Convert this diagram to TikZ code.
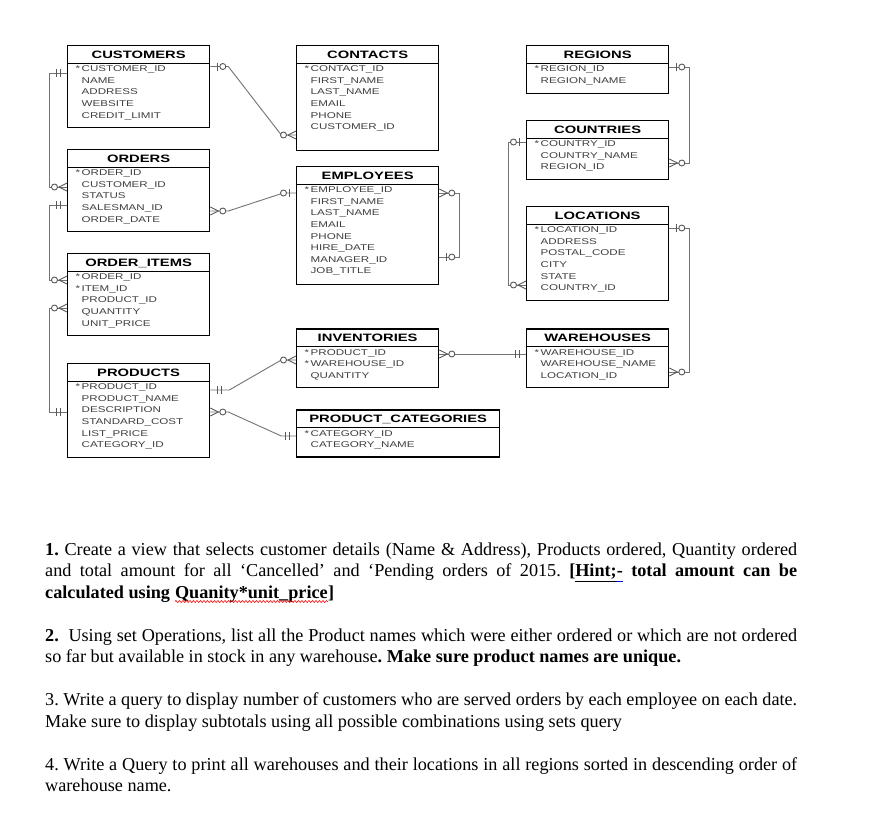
\documentclass[tikz,border=0pt]{standalone}
\usepackage{fontspec}
\setmainfont{Liberation Serif}
\newfontfamily\erfont[FakeStretch=1.38]{Liberation Sans}
\usepackage{tikz}
\usetikzlibrary{positioning,decorations.pathmorphing}

\newcommand{\pk}{\llap{*\hspace{1.5pt}}}
% table: name, north west corner, width, height, title, fields
\newcommand{\ertable}[6]{%
  \node[tbl, minimum width=#3pt, minimum height=#4pt] (#1) at (#2) {};
  \node[hdr, below=0pt of #1.north] (#1-h) {#5};
  \draw[sep] (#1-h.south -| #1.west) -- (#1-h.south -| #1.east);
  \foreach \f [count=\i] in {#6}
    \node[fld] (#1-\i) at ([shift={(14.5,{12.1+11.6*\i})}]#1.north west) {\f};
}
\newsavebox\hintbox
\newcommand{\blueul}[1]{\sbox\hintbox{#1}\rlap{\textcolor{blue}{\rule[-5pt]{\wd\hintbox}{0.8pt}}}\usebox\hintbox}

\begin{document}
\begin{tikzpicture}[
  x=1pt, y=-1pt,
  tbl/.style={draw, line width=1.3pt, fill=white, anchor=north west, inner sep=0pt},
  hdr/.style={font=\erfont\bfseries\fontsize{10.7}{12}\selectfont, inner sep=0pt,
    minimum height=18pt, text height=7.7pt, text depth=0pt},
  fld/.style={font=\erfont\fontsize{8.4}{10}\selectfont, text=black!75, anchor=west,
    inner sep=0pt, text height=6pt, text depth=0pt},
  sep/.style={line width=1pt},
  link/.style={draw=black!55, line width=0.9pt},
  endmark/.style={draw=black!65, line width=0.9pt},
  zeroone/.pic={\draw[endmark] (7,-4) -- (7,4); \draw[endmark, fill=white] (12.5,0) circle (3pt);},
  oneone/.pic={\draw[endmark] (7,-4) -- (7,4) (11,-4) -- (11,4);},
  zeromany/.pic={\draw[endmark] (0,-4) -- (8,0) -- (0,4); \draw[endmark, fill=white] (12.5,0) circle (3pt);},
  qline/.style={anchor=base west, inner sep=0pt, font=\fontsize{18.2}{21.5}\selectfont\frenchspacing},
  wavy/.style={draw=red, line width=0.6pt, decorate, decoration={snake, amplitude=1pt, segment length=3.5pt}}
]
\path[fill=white, use as bounding box] (0,0) rectangle (876,815);

\ertable{cust}{67,45}{142}{82}{CUSTOMERS}{\pk CUSTOMER\_ID, NAME, ADDRESS, WEBSITE, CREDIT\_LIMIT}
\ertable{cont}{296,45}{142}{105}{CONTACTS}{\pk CONTACT\_ID, FIRST\_NAME, LAST\_NAME, EMAIL, PHONE, CUSTOMER\_ID}
\ertable{reg}{526,45}{142}{48}{REGIONS}{\pk REGION\_ID, REGION\_NAME}
\ertable{ctry}{526,120}{142}{59}{COUNTRIES}{\pk COUNTRY\_ID, COUNTRY\_NAME, REGION\_ID}
\ertable{ord}{67,149}{142}{82}{ORDERS}{\pk ORDER\_ID, CUSTOMER\_ID, STATUS, SALESMAN\_ID, ORDER\_DATE}
\ertable{emp}{296,166}{142}{117.5}{EMPLOYEES}{\pk EMPLOYEE\_ID, FIRST\_NAME, LAST\_NAME, EMAIL, PHONE, HIRE\_DATE, MANAGER\_ID, JOB\_TITLE}
\ertable{loc}{526,206}{142}{94}{LOCATIONS}{\pk LOCATION\_ID, ADDRESS, POSTAL\_CODE, CITY, STATE, COUNTRY\_ID}
\ertable{oitem}{67,253}{142}{82}{ORDER\_ITEMS}{\pk ORDER\_ID, \pk ITEM\_ID, PRODUCT\_ID, QUANTITY, UNIT\_PRICE}
\ertable{inv}{296,328.3}{142}{58.4}{INVENTORIES}{\pk PRODUCT\_ID, \pk WAREHOUSE\_ID, QUANTITY}
\ertable{wh}{526,328.3}{142}{58.4}{WAREHOUSES}{\pk WAREHOUSE\_ID, WAREHOUSE\_NAME, LOCATION\_ID}
\ertable{prod}{67,363}{142}{94}{PRODUCTS}{\pk PRODUCT\_ID, PRODUCT\_NAME, DESCRIPTION, STANDARD\_COST, LIST\_PRICE, CATEGORY\_ID}
\ertable{pcat}{296,409.3}{203}{47}{PRODUCT\_CATEGORIES}{\pk CATEGORY\_ID, CATEGORY\_NAME}

% customers - contacts
\draw[link] (cust.east |- 0,66.5) -- ++(18,0) -- ++(53,68.5) -- (cont.west |- 0,135);
\pic at (cust.east |- 0,66.5) {zeroone};
\pic[xscale=-1] at (cont.west |- 0,135) {zeromany};
% customers - orders
\draw[link] (cust.west |- 0,73) -- ++(-18,0) |- (ord.west |- 0,187);
\pic[xscale=-1] at (cust.west |- 0,73) {oneone};
\pic[xscale=-1] at (ord.west |- 0,187) {zeromany};
% orders - order_items
\draw[link] (ord.west |- 0,205) -- ++(-18,0) |- (oitem.west |- 0,280);
\pic[xscale=-1] at (ord.west |- 0,205) {oneone};
\pic[xscale=-1] at (oitem.west |- 0,280) {zeromany};
% products - order_items
\draw[link] (prod.west |- 0,412) -- ++(-18,0) |- (oitem.west |- 0,308);
\pic[xscale=-1] at (prod.west |- 0,412) {oneone};
\pic[xscale=-1] at (oitem.west |- 0,308) {zeromany};
% employees - orders
\draw[link] (ord.east |- 0,211) -- ++(18,0) -- ++(55,-18) -- (emp.west |- 0,193);
\pic at (ord.east |- 0,211) {zeromany};
\pic[xscale=-1] at (emp.west |- 0,193) {zeroone};
% employees - manager
\draw[link] (emp.east |- 0,193) -- ++(20,0) |- (emp.east |- 0,257);
\pic at (emp.east |- 0,193) {zeromany};
\pic at (emp.east |- 0,257) {zeroone};
% regions - countries
\draw[link] (reg.east |- 0,67) -- ++(20,0) |- (ctry.east |- 0,163);
\pic at (reg.east |- 0,67) {zeroone};
\pic at (ctry.east |- 0,163) {zeromany};
% countries - locations
\draw[link] (ctry.west |- 0,142) -- ++(-17.5,0) |- (loc.west |- 0,285);
\pic[xscale=-1] at (ctry.west |- 0,142) {zeroone};
\pic[xscale=-1] at (loc.west |- 0,285) {zeromany};
% locations - warehouses
\draw[link] (loc.east |- 0,228) -- ++(20,0) |- (wh.east |- 0,372);
\pic at (loc.east |- 0,228) {zeroone};
\pic at (wh.east |- 0,372) {zeromany};
% warehouses - inventories
\draw[link] (inv.east |- 0,354) -- (wh.west |- 0,354);
\pic at (inv.east |- 0,354) {zeromany};
\pic[xscale=-1] at (wh.west |- 0,354) {oneone};
% products - inventories
\draw[link] (prod.east |- 0,390) -- ++(19,0) -- ++(52,-30) -- (inv.west |- 0,360);
\pic at (prod.east |- 0,390) {oneone};
\pic[xscale=-1] at (inv.west |- 0,360) {zeromany};
% product_categories - products
\draw[link] (prod.east |- 0,412) -- ++(18,0) -- ++(53,24) -- (pcat.west |- 0,436);
\pic at (prod.east |- 0,412) {zeromany};
\pic[xscale=-1] at (pcat.west |- 0,436) {oneone};

% questions
\node[qline] (q1a) at (45,555) {\makebox[752pt][s]{\textbf{1.} Create a view that selects customer details (Name \& Address), Products ordered, Quantity ordered}};
\node[qline] (q1b) at (45,576.5) {\makebox[752pt][s]{and total amount for all ‘Cancelled’ and ‘Pending orders of 2015. \textbf{[\blueul{\underline{Hint;}-} total amount can be}}};
\node[qline] (q1c) at (45,598) {\textbf{calculated using}};
\node[qline] (q1w) at ([xshift=4.55pt]q1c.base east) {\textbf{Quanity*unit\_price}};
\node[qline] (q1e) at (q1w.base east) {\textbf{]}};
\draw[wavy] ([yshift=-3.5pt]q1w.base west) -- ([yshift=-3.5pt]q1w.base east);
\node[qline] (q2a) at (45,641) {\makebox[752pt][s]{\textbf{2.}\ \ Using set Operations, list all the Product names which were either ordered or which are not ordered}};
\node[qline] (q2b) at (45,662.5) {so far but available in stock in any warehouse\textbf{. Make sure product names are unique.}};
\node[qline] (q3a) at (45,705.5) {\makebox[752pt][s]{3. Write a query to display number of customers who are served orders by each employee on each date.}};
\node[qline] (q3b) at (45,727) {Make sure to display subtotals using all possible combinations using sets query};
\node[qline] (q4a) at (45,770) {\makebox[752pt][s]{4. Write a Query to print all warehouses and their locations in all regions sorted in descending order of}};
\node[qline] (q4b) at (45,791.5) {warehouse name.};
\end{tikzpicture}
\end{document}
